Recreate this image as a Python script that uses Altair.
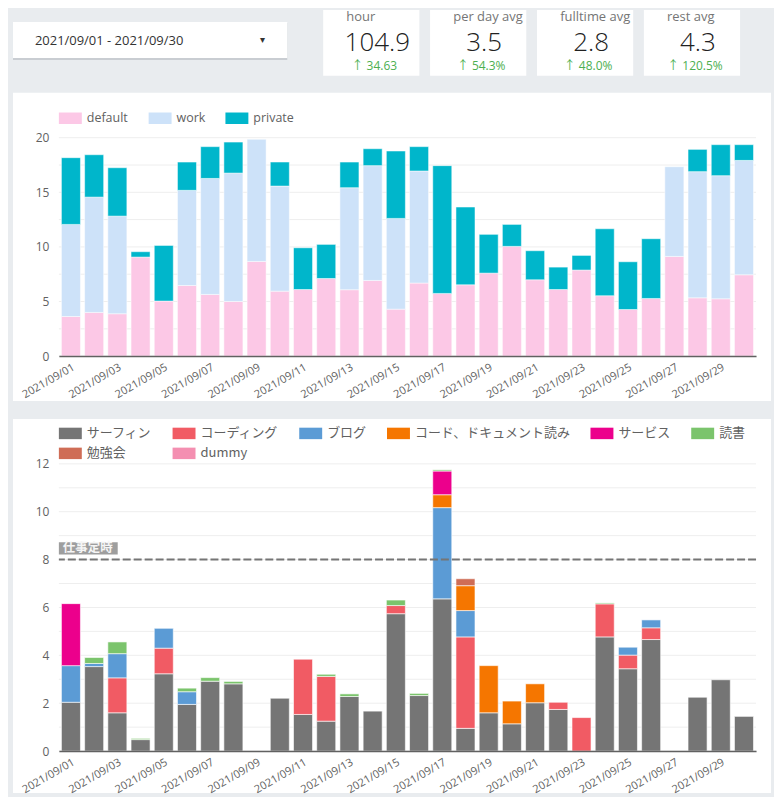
import altair as alt
import pandas as pd

FONT = "Open Sans, Noto Sans CJK JP, sans-serif"
JP_FONT = "Noto Sans CJK JP, Open Sans, sans-serif"
BG = "#e9ecef"
AXIS_GRAY = "#616161"

# ---------------- data ----------------
DATES = ["2021/09/%02d" % d for d in range(1, 31)]
LABEL_DATES = DATES[::2]

DATE_RANGE = "2021/09/01 - 2021/09/30"
METRIC_LABELS = ["hour", "per day avg", "fulltime avg", "rest avg"]
METRIC_VALUES = ["104.9", "3.5", "2.8", "4.3"]
METRIC_DELTAS = ["34.63", "54.3%", "48.0%", "120.5%"]

TOP_CATS = ["default", "work", "private"]
TOP_COLORS = ["#fcc8e6", "#cde2f9", "#00b6cb"]
top_default = [3.63, 4.00, 3.88, 9.07, 5.04, 6.47, 5.65, 5.00, 8.67, 5.95,
               6.10, 7.11, 6.08, 6.93, 4.30, 6.69, 5.74, 6.53, 7.60, 10.05,
               6.99, 6.10, 7.88, 5.53, 4.27, 5.28, 9.13, 5.34, 5.25, 7.45]
top_work = [8.43, 10.56, 8.94, 0, 0, 8.71, 10.62, 11.76, 11.18, 9.62,
            0, 0, 9.34, 10.51, 8.31, 10.26, 0, 0, 0, 0,
            0, 0, 0, 0, 0, 0, 8.21, 11.55, 11.27, 10.47]
top_private = [6.11, 3.88, 4.43, 0.49, 5.10, 2.59, 2.91, 2.84, 0, 2.20,
               3.82, 3.12, 2.35, 1.55, 6.17, 2.23, 11.70, 7.12, 3.55, 2.01,
               2.66, 2.05, 1.34, 6.13, 4.37, 5.47, 0, 2.04, 2.84, 1.44]
TOP_GRID = [0, 2.5, 5, 7.5, 10, 12.5, 15, 17.5, 20]

ACTS = ["サーフィン", "コーディング", "ブログ", "コード、ドキュメント読み",
        "サービス", "読書", "勉強会", "dummy"]
ACT_COLORS = ["#757575", "#f15b64", "#5b9bd5", "#f57600",
              "#ec008c", "#7bc46c", "#cf6d56", "#f48fb1"]
act_surf = [2.04, 3.53, 1.60, 0.48, 3.23, 1.95, 2.92, 2.81, 0, 2.21,
            1.53, 1.25, 2.28, 1.67, 5.74, 2.32, 6.36, 0.95, 1.60, 1.14,
            2.02, 1.74, 0, 4.77, 3.44, 4.66, 0, 2.25, 2.98, 1.45]
act_coding = [0, 0, 1.46, 0, 1.07, 0, 0, 0, 0, 0,
              2.31, 1.87, 0, 0, 0.34, 0, 0, 3.82, 0, 0,
              0, 0.30, 1.40, 1.38, 0.57, 0.49, 0, 0, 0, 0]
act_blog = [1.53, 0.13, 1.01, 0, 0.83, 0.53, 0, 0, 0, 0,
            0, 0, 0, 0, 0, 0, 3.81, 1.10, 0, 0,
            0, 0, 0, 0, 0.33, 0.33, 0, 0, 0, 0]
act_coderead = [0, 0, 0, 0, 0, 0, 0, 0, 0, 0,
                0, 0, 0, 0, 0, 0, 0.54, 1.04, 1.97, 0.95,
                0.79, 0, 0, 0, 0, 0, 0, 0, 0, 0]
act_service = [2.59, 0, 0, 0, 0, 0, 0, 0, 0, 0,
               0, 0, 0, 0, 0, 0, 0.99, 0, 0, 0,
               0, 0, 0, 0, 0, 0, 0, 0, 0, 0]
act_reading = [0, 0.25, 0.49, 0.05, 0, 0.15, 0.15, 0.10, 0, 0,
               0, 0.09, 0.11, 0, 0.23, 0.09, 0.05, 0, 0, 0,
               0, 0, 0, 0.04, 0, 0, 0, 0, 0, 0]
act_study = [0, 0, 0, 0, 0, 0, 0, 0, 0, 0,
             0, 0, 0, 0, 0, 0, 0, 0.29, 0, 0,
             0, 0, 0, 0, 0, 0, 0, 0, 0, 0]
act_dummy = [0, 0, 0, 0, 0, 0, 0, 0, 0, 0,
             0, 0, 0, 0, 0, 0, 0, 0, 0, 0,
             0, 0, 0, 0, 0, 0, 0, 0, 0, 0]
BOTTOM_GRID = [0, 1, 2, 3, 4, 5, 6, 7, 8, 9, 10, 11, 12]
WORK_LINE = 8
WORK_LINE_LABEL = "仕事定時"


def long_table(series, cats):
    rows = []
    for ci, (cat, vals) in enumerate(zip(cats, series)):
        for d, v in zip(DATES, vals):
            if v > 0:
                rows.append({"date": d, "cat": cat, "value": v, "idx": ci})
    return pd.DataFrame(rows)


top_df = long_table([top_default, top_work, top_private], TOP_CATS)
bot_df = long_table([act_surf, act_coding, act_blog, act_coderead,
                     act_service, act_reading, act_study, act_dummy], ACTS)
metrics = pd.DataFrame({"label": METRIC_LABELS, "value": METRIC_VALUES,
                        "delta": ["↑ " + d for d in METRIC_DELTAS]})
one = pd.DataFrame({"k": [0]})


def background(y_top, y_bottom, card_top, card_bottom):
    gray = alt.Chart(one).mark_rect(color=BG).encode(
        x=alt.value(-50), x2=alt.value(716), y=alt.value(y_top), y2=alt.value(y_bottom))
    card = alt.Chart(one).mark_rect(color="white").encode(
        x=alt.value(-46), x2=alt.value(714), y=alt.value(card_top), y2=alt.value(card_bottom))
    return gray, card


# ---------------- header ----------------
HEADER_H = 81
xcard = alt.X("label:N", axis=None,
              scale=alt.Scale(domain=METRIC_LABELS, range=[265, 683],
                              paddingInner=0.1, paddingOuter=0))
h_gray = alt.Chart(one).mark_rect(color=BG).encode(
    x=alt.value(-50), x2=alt.value(716), y=alt.value(0), y2=alt.value(HEADER_H))
h_shadow = alt.Chart(one).mark_rect(color="#c9cdd2").encode(
    x=alt.value(-46), x2=alt.value(229), y=alt.value(13), y2=alt.value(50))
h_box = alt.Chart(one).mark_rect(color="white").encode(
    x=alt.value(-46), x2=alt.value(229), y=alt.value(12), y2=alt.value(48))
h_date = alt.Chart(one).mark_text(
    text=DATE_RANGE, align="left", baseline="middle", fontSize=13,
    color="#333333", font=FONT).encode(x=alt.value(-24), y=alt.value(31))
h_tri = alt.Chart(one).mark_text(
    text="▾", align="center", baseline="middle", fontSize=10,
    color="#333333", font=FONT).encode(x=alt.value(204), y=alt.value(30))
h_cards = alt.Chart(metrics).mark_rect(color="white").encode(
    x=xcard, y=alt.value(0), y2=alt.value(66))
h_lab = alt.Chart(metrics).mark_text(
    align="left", baseline="middle", dx=-25, fontSize=13, color="#757575",
    font=FONT).encode(x=xcard, y=alt.value(7), text="label:N")
h_val = alt.Chart(metrics).mark_text(
    align="center", baseline="middle", dx=6, fontSize=26, fontWeight=300,
    color="#212121", font=FONT).encode(x=xcard, y=alt.value(33), text="value:N")
h_delta = alt.Chart(metrics).mark_text(
    align="center", baseline="middle", dx=3, fontSize=12, color="#4caf50",
    font=FONT).encode(x=xcard, y=alt.value(56), text="delta:N")

header = alt.layer(h_gray, h_shadow, h_box, h_date, h_tri, h_cards,
                   h_lab, h_val, h_delta).properties(width=716, height=HEADER_H)


# ---------------- shared axis pieces ----------------
def x_enc():
    return alt.X("date:N",
                 scale=alt.Scale(domain=DATES, paddingInner=0.18, paddingOuter=0.11),
                 axis=alt.Axis(title=None, values=LABEL_DATES, labelAngle=-30,
                               labelFontSize=11, labelColor=AXIS_GRAY, labelFont=FONT,
                               labelPadding=5, ticks=False, grid=False,
                               domainColor="#616161", domainWidth=1.5, zindex=1,
                               labelOverlap=False))


def y_axis(vals):
    return alt.Axis(title=None, values=vals, grid=False, ticks=False, domain=False,
                    labelPadding=10, labelFontSize=12, labelColor=AXIS_GRAY,
                    labelFont=FONT, zindex=1, labelOverlap=False)


LEGEND_SYMBOL = "M-1,-0.5H1V0.5H-1Z"

# ---------------- top chart ----------------
top_scale = alt.Scale(domain=[0, 20], nice=False)
top_axis = y_axis([0, 5, 10, 15, 20])
t_gray, t_card = background(-45, 271, -45, 264)
t_grid = alt.Chart(pd.DataFrame({"value": TOP_GRID})).mark_rule(
    color="#eeeeee", strokeWidth=1).encode(
    y=alt.Y("value:Q", scale=top_scale, axis=top_axis))
t_bars = alt.Chart(top_df).mark_bar(
    stroke="white", strokeWidth=1, strokeOpacity=0.5).encode(
    x=x_enc(),
    y=alt.Y("value:Q", stack="zero", scale=top_scale, axis=top_axis),
    color=alt.Color("cat:N", scale=alt.Scale(domain=TOP_CATS, range=TOP_COLORS),
                    legend=alt.Legend(title=None, orient="none", legendX=0, legendY=-31,
                                      direction="horizontal", symbolType=LEGEND_SYMBOL,
                                      symbolSize=529, symbolStrokeWidth=0,
                                      labelFont=FONT, labelFontSize=12.5,
                                      labelColor=AXIS_GRAY, labelOffset=5,
                                      columnPadding=20, padding=0)),
    order=alt.Order("idx:Q"))
top = alt.layer(t_gray, t_card, t_grid, t_bars).properties(width=699, height=219)

# ---------------- bottom chart ----------------
bot_scale = alt.Scale(domain=[0, 12], nice=False)
bot_axis = y_axis([0, 2, 4, 6, 8, 10, 12])
b_gray, b_card = background(-54, 330, -45, 330)
b_grid = alt.Chart(pd.DataFrame({"value": BOTTOM_GRID})).mark_rule(
    color="#eeeeee", strokeWidth=1).encode(
    y=alt.Y("value:Q", scale=bot_scale, axis=bot_axis))
b_bars = alt.Chart(bot_df).mark_bar(
    stroke="white", strokeWidth=1, strokeOpacity=0.6).encode(
    x=x_enc(),
    y=alt.Y("value:Q", stack="zero", scale=bot_scale, axis=bot_axis),
    color=alt.Color("cat:N", scale=alt.Scale(domain=ACTS, range=ACT_COLORS),
                    legend=alt.Legend(title=None, orient="none", legendX=0, legendY=-42,
                                      direction="horizontal", columns=6, gridAlign="none",
                                      symbolType=LEGEND_SYMBOL, symbolSize=529,
                                      symbolStrokeWidth=0, labelFont=JP_FONT,
                                      labelFontSize=13, labelColor=AXIS_GRAY,
                                      labelOffset=5, columnPadding=20, rowPadding=1,
                                      padding=0, labelLimit=300)),
    order=alt.Order("idx:Q"))
line_df = pd.DataFrame({"value": [WORK_LINE]})
b_line = alt.Chart(line_df).mark_rule(
    color="#757575", strokeWidth=2, strokeDash=[8, 3]).encode(
    y=alt.Y("value:Q", scale=bot_scale, axis=bot_axis))
b_lbox = alt.Chart(line_df).mark_rect(
    color="#9e9e9e", yOffset=-5, y2Offset=-17.5).encode(
    x=alt.value(0), x2=alt.value(59),
    y=alt.Y("value:Q", scale=bot_scale, axis=bot_axis), y2="value")
b_ltext = alt.Chart(line_df).mark_text(
    text=WORK_LINE_LABEL, align="left", baseline="middle", dx=4, dy=-11.3,
    fontSize=12.5, fontWeight="bold", color="#f5f5f5", font=JP_FONT).encode(
    x=alt.value(0), y=alt.Y("value:Q", scale=bot_scale, axis=bot_axis))
bottom = alt.layer(b_gray, b_card, b_grid, b_bars, b_line, b_lbox, b_ltext).properties(
    width=699, height=288)

chart = alt.vconcat(header, top, bottom, spacing=0).resolve_scale(
    color="independent", x="independent", y="independent"
).resolve_legend(color="independent").properties(
    padding=0, background=BG
).configure_view(stroke="transparent")

chart.save("out.html", embed_options={"renderer": "svg", "actions": False})
